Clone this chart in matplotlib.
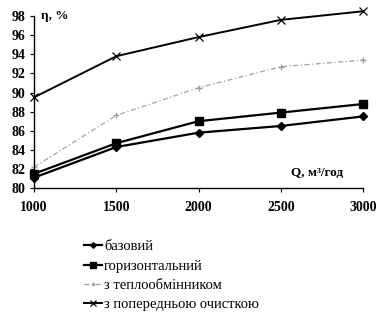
import matplotlib
matplotlib.use("Agg")
import matplotlib.pyplot as plt
from matplotlib.ticker import FixedLocator

x = [1000, 1500, 2000, 2500, 3000]
bazovyi = [81.1, 84.3, 85.8, 86.5, 87.5]
horyz = [81.5, 84.7, 87.0, 87.9, 88.8]
teplo = [82.2, 87.6, 90.5, 92.7, 93.4]
poperedn = [89.5, 93.8, 95.8, 97.6, 98.5]
labels = ["базовий", "горизонтальний", "з теплообмінником", "з попередньою очисткою"]
yticks = [80, 82, 84, 86, 88, 90, 92, 94, 96, 98]

plt.rcParams['font.family'] = ['Liberation Serif', 'DejaVu Serif']

fig = plt.figure(figsize=(3.79, 3.21), dpi=100)
ax = fig.add_axes([0.09, 0.414, 0.868, 0.536])

ax.plot(x, bazovyi, color='black', lw=1.6, marker='D', ms=4, label=labels[0], clip_on=False)
ax.plot(x, horyz, color='black', lw=1.6, marker='s', ms=6, label=labels[1], clip_on=False)
ax.plot(x, teplo, color='#a0a0a0', lw=0.9, ls=(0, (4, 2, 1, 2)), marker='+', ms=4,
        label=labels[2], clip_on=False)
ax.plot(x, poperedn, color='black', lw=1.4, marker='x', ms=6, mew=0.9, label=labels[3],
        clip_on=False)

ax.set_xlim(1000, 3000)
ax.set_ylim(80, 98)
ax.xaxis.set_major_locator(FixedLocator(x))
ax.yaxis.set_major_locator(FixedLocator(yticks))
for s in ['top', 'right']:
    ax.spines[s].set_visible(False)
ax.spines['left'].set_linewidth(1.0)
ax.spines['bottom'].set_linewidth(1.0)
ax.tick_params(axis='both', direction='out', length=3, width=0.8, labelsize=10, pad=3)
for t in ax.get_xticklabels() + ax.get_yticklabels():
    t.set_fontweight('bold')
ax.tick_params(axis='x', pad=6)

ax.text(1040, 98.0, "η, %", fontsize=9.5, fontweight='bold', va='center', ha='left')
ax.text(2560, 81.6, "Q, м³/год", fontsize=9.5, fontweight='bold', va='center', ha='left')

leg = fig.legend(loc='upper left', bbox_to_anchor=(0.205, 0.27), frameon=False,
                 fontsize=10.5, handlelength=1.25, handletextpad=0.15,
                 labelspacing=0.42, borderaxespad=0, markerscale=0.7)

fig.savefig("out.png", dpi=100)
